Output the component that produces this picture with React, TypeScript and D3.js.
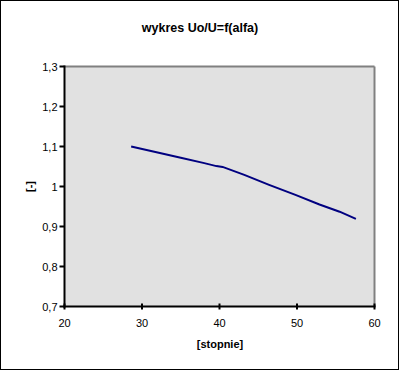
import React from "react";
import * as d3 from "d3";

const alfa = [28.6, 32.3, 35.0, 37.9, 39.6, 40.4, 43.2, 46.4, 49.8, 52.9, 55.5, 57.6];
const ratio = [1.1, 1.084, 1.072, 1.059, 1.051, 1.049, 1.029, 1.004, 0.979, 0.955, 0.937, 0.919];
const xTicks = [20, 30, 40, 50, 60];
const yTicks = [0.7, 0.8, 0.9, 1.0, 1.1, 1.2, 1.3];
const title = "wykres Uo/U=f(alfa)";
const xTitle = "[stopnie]";
const yTitle = "[-]";

export default function App() {
  const W = 401, H = 373;
  const left = 64.5, right = 374.5, top = 66.5, bottom = 306.5;
  const x = d3.scaleLinear().domain([20, 60]).range([left, right]);
  const y = d3.scaleLinear().domain([0.7, 1.3]).range([bottom, top]);
  const line = d3.line<number>().x((_, i) => x(alfa[i])).y((d) => y(d));
  const fmt = (v: number) => (Math.round(v * 10) / 10).toString().replace(".", ",");
  const font = "'Liberation Sans', Arial, sans-serif";
  return (
    <svg width={W} height={H} style={{ position: "absolute", left: 0, top: 0 }} fontFamily={font}>
      <rect x={0} y={0} width={W} height={H} fill="#fff" />
      <rect x={0.5} y={0.5} width={398} height={369} fill="#fff" stroke="#000" strokeWidth={1} />
      <text x={200} y={32} textAnchor="middle" fontSize={12.5} fontWeight="bold">{title}</text>
      <rect x={left} y={top} width={right - left} height={bottom - top} fill="#e1e1e1" />
      <line x1={left} x2={right} y1={top} y2={top} stroke="#808080" strokeWidth={2} />
      <line x1={right} x2={right} y1={top} y2={bottom} stroke="#808080" strokeWidth={2} />
      <path d={line(ratio) || ""} fill="none" stroke="#000080" strokeWidth={2} />
      <line x1={left} x2={left} y1={top - 1} y2={bottom + 1} stroke="#000" strokeWidth={2} />
      <line x1={left - 1} x2={right + 1} y1={bottom} y2={bottom} stroke="#000" strokeWidth={2} />
      {yTicks.map((t) => (
        <g key={"y" + t}>
          <line x1={left - 5} x2={left} y1={y(t)} y2={y(t)} stroke="#000" strokeWidth={2} />
          <text x={left - 7} y={y(t) + 4} textAnchor="end" fontSize={11}>{fmt(t)}</text>
        </g>
      ))}
      {xTicks.map((t) => (
        <g key={"x" + t}>
          <line x1={x(t)} x2={x(t)} y1={bottom - 3} y2={bottom + 3} stroke="#000" strokeWidth={2} />
          <text x={x(t)} y={327} textAnchor="middle" fontSize={11}>{t}</text>
        </g>
      ))}
      <text x={220} y={348} textAnchor="middle" fontSize={11} fontWeight="bold">{xTitle}</text>
      <text transform={`translate(34,${y(1)}) rotate(-90)`} textAnchor="middle" fontSize={11} fontWeight="bold">{yTitle}</text>
    </svg>
  );
}
